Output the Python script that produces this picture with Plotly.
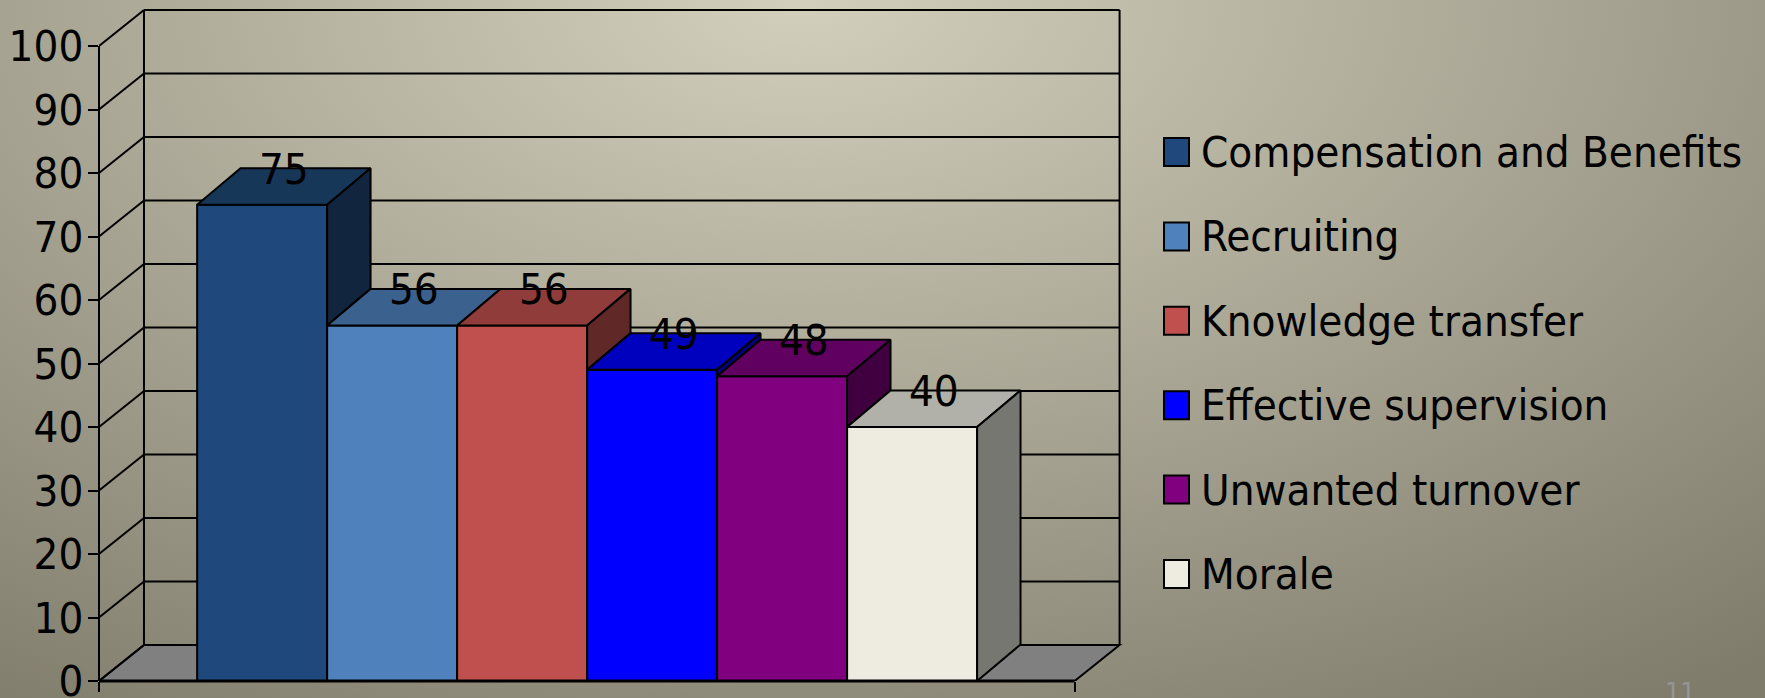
import plotly.graph_objects as go

# Chart data
categories = ["Compensation and Benefits", "Recruiting", "Knowledge transfer",
              "Effective supervision", "Unwanted turnover", "Morale"]
values = [75, 56, 56, 49, 48, 40]
y_ticks = [0, 10, 20, 30, 40, 50, 60, 70, 80, 90, 100]

# Face colours for each bar
front_colors = ["#1F497D", "#4F81BD", "#C0504D", "#0000FF", "#800080", "#EEECE1"]
top_colors = ["#173759", "#3B618E", "#903C3A", "#0000BF", "#600060", "#B2B1A9"]
side_colors = ["#11253F", "#284060", "#602826", "#000080", "#400040", "#777771"]

FONT = "DejaVu Sans Condensed, DejaVu Sans"
TEXT_SIZE = 43.5

# Page and plot geometry
W, H = 1765, 698
L, R, T, B = 99, 641, 2, 17
X_MIN, X_FRONT = -1.255, 6.25   # front floor edge, in bar widths
X_MAX = 6.63
Y_MAX = 106.93
DX, DY = 0.346, 5.67            # depth of the walls, in axis units
BAR_DX, BAR_DY = 0.334, 5.75    # depth of the bars


def px_x(px):
    return (px - L) / (W - L - R)


def px_y(py):
    return (H - B - py) / (H - T - B)


fig = go.Figure()

# Front faces
for i, name in enumerate(categories):
    fig.add_trace(go.Bar(x=[i], y=[values[i]], width=1, name=name,
                         marker=dict(color=front_colors[i], line=dict(color="black", width=2)),
                         showlegend=False))

# Top and side faces, worked out from the values
for i, v in enumerate(values):
    x0, x1 = i - 0.5, i + 0.5
    fig.add_trace(go.Scatter(x=[x0, x1, x1 + BAR_DX, x0 + BAR_DX, x0],
                             y=[v, v, v + BAR_DY, v + BAR_DY, v],
                             mode="lines", fill="toself", fillcolor=top_colors[i],
                             line=dict(color="black", width=2), showlegend=False, hoverinfo="skip"))
    next_v = values[i + 1] if i + 1 < len(values) else 0
    if next_v < v:
        fig.add_trace(go.Scatter(x=[x1, x1 + BAR_DX, x1 + BAR_DX, x1, x1],
                                 y=[v, v + BAR_DY, next_v + BAR_DY, next_v, v],
                                 mode="lines", fill="toself", fillcolor=side_colors[i],
                                 line=dict(color="black", width=2), showlegend=False, hoverinfo="skip"))

# Value labels sit on the back edge of each top face
fig.add_trace(go.Scatter(x=[i + BAR_DX / 2 for i in range(len(values))],
                         y=[v + BAR_DY - 0.7 for v in values],
                         mode="text", text=[str(v) for v in values], textposition="middle center",
                         textfont=dict(family=FONT, size=TEXT_SIZE, color="black"),
                         cliponaxis=False, showlegend=False, hoverinfo="skip"))

# Floor and walls go under the bars
shapes = [dict(type="path", layer="below", xref="x", yref="y", fillcolor="#808080",
               line=dict(color="black", width=2),
               path=f"M{X_MIN},0 L{X_FRONT},0 L{X_FRONT + DX},{DY} L{X_MIN + DX},{DY} Z")]
for t in y_ticks:
    shapes.append(dict(type="line", layer="below", xref="x", yref="y", line=dict(color="black", width=2),
                       x0=X_MIN, y0=t, x1=X_MIN + DX, y1=t + DY))
    shapes.append(dict(type="line", layer="below", xref="x", yref="y", line=dict(color="black", width=2),
                       x0=X_MIN + DX, y0=t + DY, x1=X_FRONT + DX, y1=t + DY))
for x in [X_MIN + DX, X_FRONT + DX]:
    shapes.append(dict(type="line", layer="below", xref="x", yref="y", line=dict(color="black", width=2),
                       x0=x, y0=DY, x1=x, y1=y_ticks[-1] + DY))

# Front axis lines stop short of the wall depth, and paper refs keep them from being clipped
shapes.append(dict(type="line", xref="paper", yref="paper", line=dict(color="black", width=2),
                   x0=0, y0=0, x1=0, y1=y_ticks[-1] / Y_MAX))
shapes.append(dict(type="line", xref="paper", yref="paper", line=dict(color="black", width=3),
                   x0=0, y0=0, x1=(X_FRONT - X_MIN) / (X_MAX - X_MIN), y1=0))

# Legend is built by hand because the swatches are bigger than plotly's own
annotations = []
for i, name in enumerate(categories):
    cy = 152 + i * 84.4
    shapes.append(dict(type="rect", xref="paper", yref="paper", fillcolor=front_colors[i],
                       line=dict(color="black", width=2),
                       x0=px_x(1164), x1=px_x(1189), y0=px_y(cy + 14), y1=px_y(cy - 14)))
    annotations.append(dict(xref="paper", yref="paper", x=px_x(1199), y=px_y(cy), text=name,
                            xanchor="left", yanchor="middle", showarrow=False,
                            font=dict(family=FONT, size=TEXT_SIZE, color="black")))

# Slide number, cut off by the bottom of the page
annotations.append(dict(xref="paper", yref="paper", x=px_x(1680), y=px_y(676), text="11",
                        xanchor="center", yanchor="top", showarrow=False,
                        font=dict(family="DejaVu Sans", size=24, color="#959597")))

fig.update_layout(
    width=W, height=H, autosize=False,
    margin=dict(l=L, r=R, t=T, b=B, autoexpand=False),
    paper_bgcolor="rgba(0,0,0,0)", plot_bgcolor="rgba(0,0,0,0)",
    barmode="overlay", shapes=shapes, annotations=annotations,
    xaxis=dict(range=[X_MIN, X_MAX], showgrid=False, zeroline=False, showline=False, automargin=False,
               tickmode="array", tickvals=[X_MIN, X_FRONT], showticklabels=False,
               ticks="outside", ticklen=10, tickwidth=2, tickcolor="black"),
    yaxis=dict(range=[0, Y_MAX], showgrid=False, zeroline=False, showline=False, automargin=False,
               tickmode="array", tickvals=y_ticks, ticktext=[str(t) for t in y_ticks],
               ticks="outside", ticklen=10, tickwidth=2, tickcolor="black",
               ticklabeloverflow="allow", ticklabelstandoff=-4,
               tickfont=dict(family=FONT, size=TEXT_SIZE, color="black")),
)

# Slide background gradient lives on the page behind the transparent figure
background = ("document.body.style.margin='0';"
              "document.documentElement.style.background="
              "'radial-gradient(ellipse 1500px 860px at 800px 0px, #D2CFBC 0%, #7F7C6C 100%)';")
fig.write_html("out.html", post_script=background, config=dict(displayModeBar=False))
